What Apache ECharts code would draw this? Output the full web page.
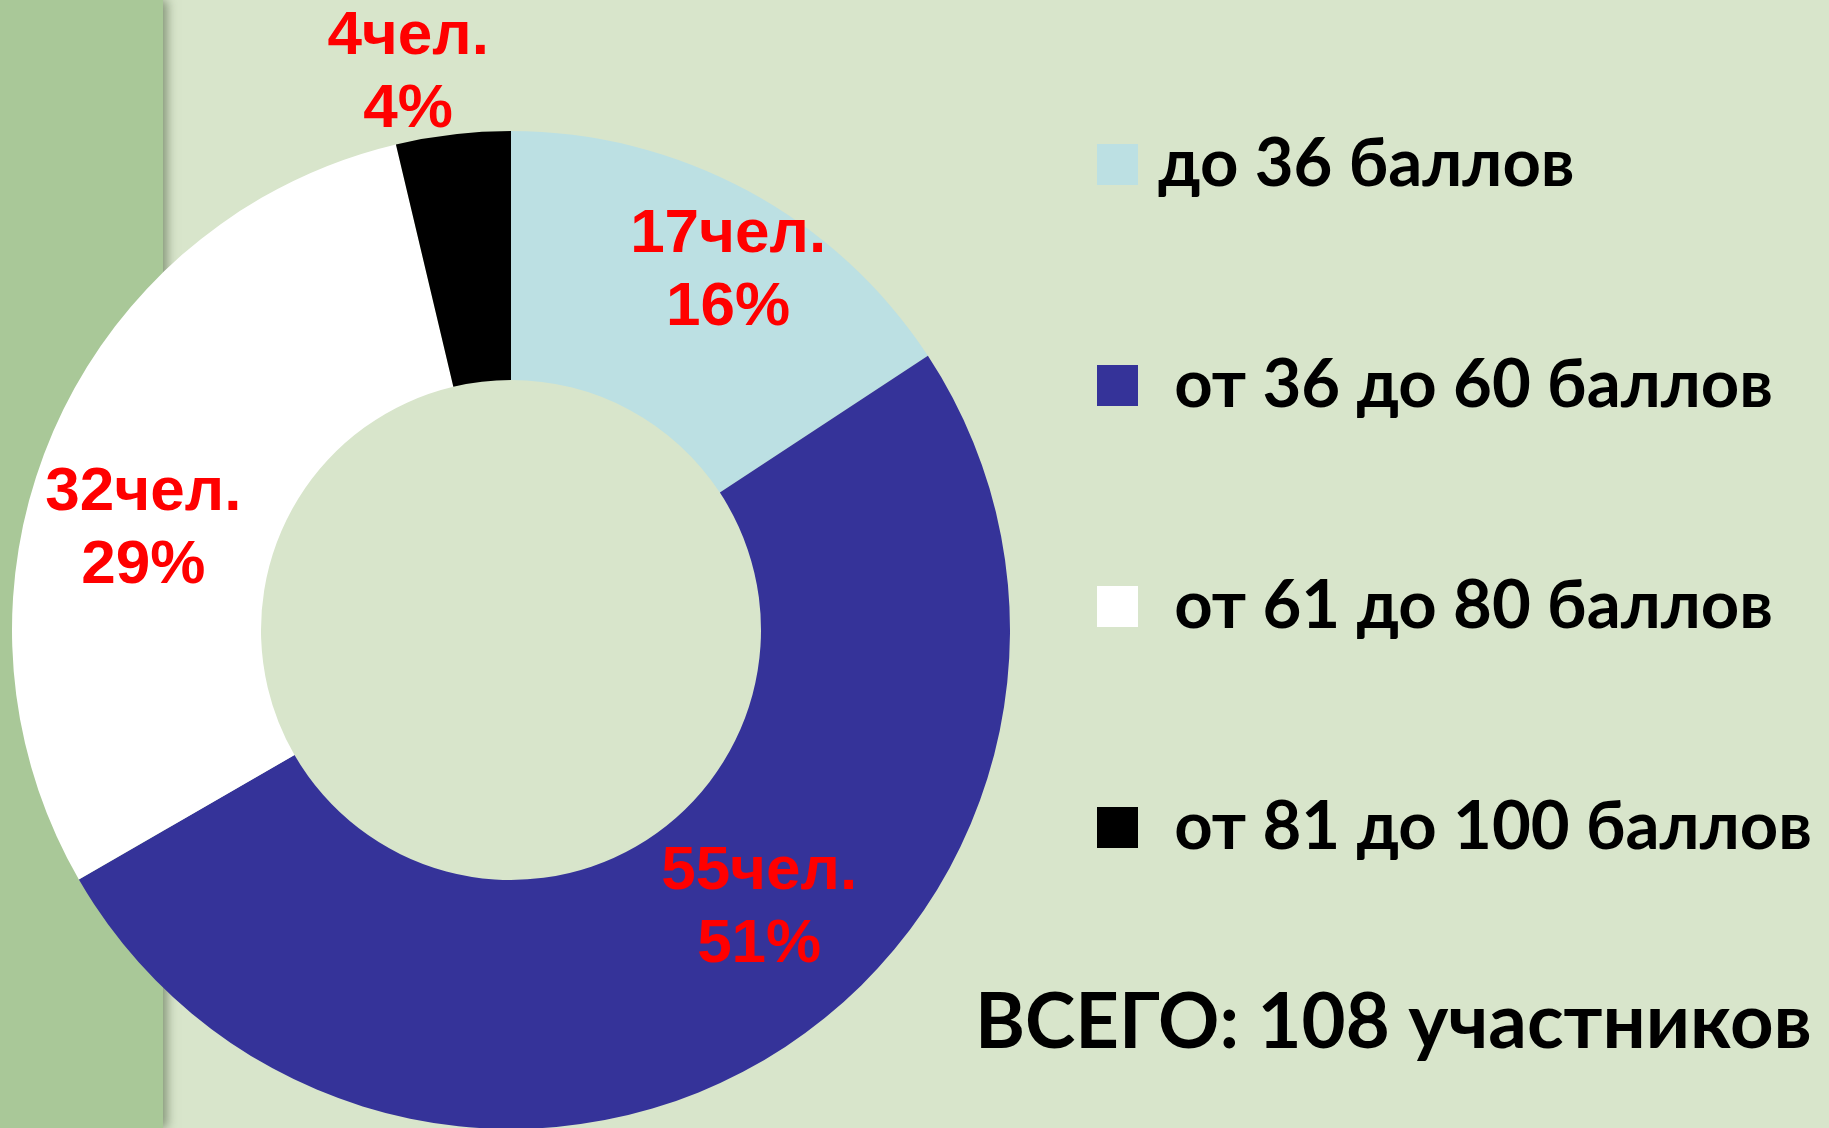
<!DOCTYPE html>
<html><head><meta charset="utf-8">
<style>html,body{margin:0;padding:0;background:#d8e5cb;}#c{width:1829px;height:1128px;}</style>
<script src="https://cdn.jsdelivr.net/npm/echarts@6/dist/echarts.min.js"></script>
</head><body><div id="c"></div>
<script>
const categories = ['до 36 баллов', 'от 36 до 60 баллов', 'от 61 до 80 баллов', 'от 81 до 100 баллов'];
const counts = [17, 55, 32, 4];
const colors = ['#bce0e3', '#353399', '#ffffff', '#000000'];
const totalText = 'ВСЕГО: 108 участников';
const labelShift = [[38, -26], [50, -43], [-21, 49], [-59, -182]];

const chart = echarts.init(document.getElementById('c'), null, {renderer: 'canvas'});
chart.setOption({
  backgroundColor: '#d8e5cb',
  animation: false,
  graphic: [{
    type: 'rect', z: -10, left: 0, top: 0,
    shape: {width: 163, height: 1128},
    style: {fill: '#a9c898', shadowBlur: 10, shadowColor: 'rgba(60,80,50,0.55)', shadowOffsetX: 4}
  }],
  title: {
    text: totalText, left: 970, top: 973,
    textStyle: {fontFamily: 'Lato', fontWeight: 'bold', fontSize: 76, color: '#000', lineHeight: 90}
  },
  legend: {
    orient: 'vertical', left: 1092, top: 126, itemWidth: 41, itemHeight: 41, itemGap: 154,
    icon: 'rect', selectedMode: false,
    data: categories,
    formatter: n => n === categories[0] ? n : '\u00a0' + n,
    textStyle: {fontFamily: 'Lato', fontWeight: 'bold', fontSize: 67, color: '#000', lineHeight: 41, padding: [0, 0, 0, 15]}
  },
  series: [{
    type: 'pie', center: [511, 630], radius: [250, 499], startAngle: 90, clockwise: true,
    percentPrecision: 0,
    label: {
      show: true, position: 'inside', color: '#ff0000', fontFamily: 'Liberation Sans', fontWeight: 'bold',
      fontSize: 62, lineHeight: 73,
      formatter: p => p.value + 'чел.\n' + p.percent + '%'
    },
    labelLine: {show: false},
    labelLayout: p => ({dx: labelShift[p.dataIndex][0], dy: labelShift[p.dataIndex][1]}),
    emphasis: {disabled: true},
    data: categories.map((n, i) => ({name: n, value: counts[i], itemStyle: {color: colors[i]}}))
  }]
});
</script></body></html>
